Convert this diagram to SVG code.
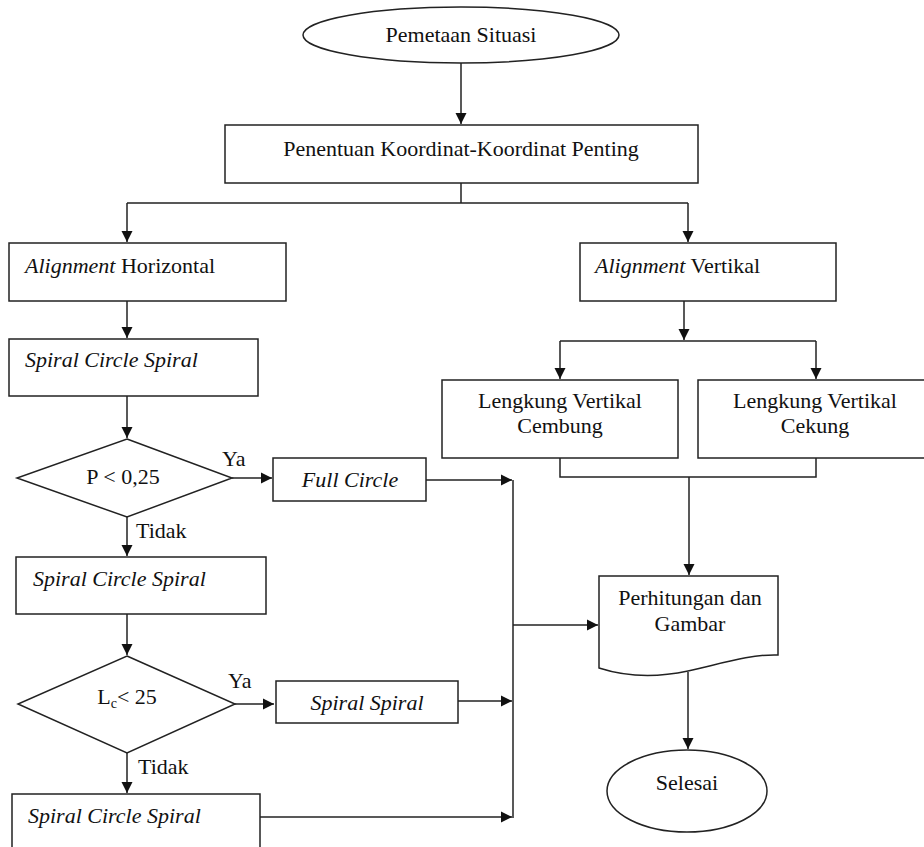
<svg xmlns="http://www.w3.org/2000/svg" width="924" height="847" viewBox="0 0 924 847">
<style>
.s{fill:#fff;stroke:#222;stroke-width:1.5}
.c{fill:none;stroke:#222;stroke-width:1.5}
text{font-family:"Liberation Serif","Times New Roman",serif;font-size:22px;fill:#111}
.m{text-anchor:middle}
.i{font-style:italic}
</style>
<defs>
<marker id="a" markerUnits="userSpaceOnUse" markerWidth="12" markerHeight="12" refX="11" refY="6" orient="auto">
<path d="M0,0.5 L11,6 L0,11.5 Z" fill="#111"/>
</marker>
</defs>
<rect width="924" height="847" fill="#fff"/>
<g id="connectors">
<path class="c" d="M461,63 V124" marker-end="url(#a)"/>
<path class="c" d="M461,183 V203 M127,203 H688"/>
<path class="c" d="M127,203 V242" marker-end="url(#a)"/>
<path class="c" d="M688,203 V242" marker-end="url(#a)"/>
<path class="c" d="M127,301 V338" marker-end="url(#a)"/>
<path class="c" d="M127,396 V438" marker-end="url(#a)"/>
<path class="c" d="M232,478 H272" marker-end="url(#a)"/>
<path class="c" d="M127,517 V556" marker-end="url(#a)"/>
<path class="c" d="M127,614 V655" marker-end="url(#a)"/>
<path class="c" d="M235,704 H274" marker-end="url(#a)"/>
<path class="c" d="M127,753 V793" marker-end="url(#a)"/>
<path class="c" d="M426,480 H512" marker-end="url(#a)"/>
<path class="c" d="M458,701 H512" marker-end="url(#a)"/>
<path class="c" d="M260,817 H512" marker-end="url(#a)"/>
<path class="c" d="M513,480 V818"/>
<path class="c" d="M513,625 H598" marker-end="url(#a)"/>
<path class="c" d="M684,301 V340" marker-end="url(#a)"/>
<path class="c" d="M560,341 H816"/>
<path class="c" d="M560,341 V379" marker-end="url(#a)"/>
<path class="c" d="M816,341 V379" marker-end="url(#a)"/>
<path class="c" d="M560,458 V477 H816 V458"/>
<path class="c" d="M689,477 V575" marker-end="url(#a)"/>
<path class="c" d="M688,672 V749" marker-end="url(#a)"/>
</g>
<g id="start">
<ellipse class="s" cx="461" cy="35" rx="158" ry="28"/>
<text class="m" x="461" y="42">Pemetaan Situasi</text>
</g>
<g id="koordinat">
<rect class="s" x="225" y="125" width="473" height="58"/>
<text class="m" x="461" y="156">Penentuan Koordinat-Koordinat Penting</text>
</g>
<g id="align-h">
<rect class="s" x="9" y="243" width="277" height="58"/>
<text x="25" y="273"><tspan class="i">Alignment</tspan> Horizontal</text>
</g>
<g id="scs1">
<rect class="s" x="9" y="339" width="249" height="57"/>
<text class="i" x="25" y="367">Spiral Circle Spiral</text>
</g>
<g id="dec-p">
<polygon class="s" points="127,439 232,478 127,517 17,478"/>
<text class="m" x="123" y="484">P &lt; 0,25</text>
<text x="222" y="466">Ya</text>
<text x="136" y="538">Tidak</text>
</g>
<g id="full-circle">
<rect class="s" x="273" y="458" width="153" height="43"/>
<text class="m i" x="350" y="487">Full Circle</text>
</g>
<g id="scs2">
<rect class="s" x="16" y="557" width="250" height="57"/>
<text class="i" x="33" y="586">Spiral Circle Spiral</text>
</g>
<g id="dec-lc">
<polygon class="s" points="127,656 235,704 127,753 18,704"/>
<text class="m" x="127" y="704">L<tspan font-size="14" dy="4">c</tspan><tspan dy="-4">&lt; 25</tspan></text>
<text x="228" y="688">Ya</text>
<text x="138" y="774">Tidak</text>
</g>
<g id="spiral-spiral">
<rect class="s" x="276" y="681" width="182" height="42"/>
<text class="m i" x="367" y="710">Spiral Spiral</text>
</g>
<g id="scs3">
<rect class="s" x="12" y="794" width="248" height="70"/>
<text class="i" x="28" y="823">Spiral Circle Spiral</text>
</g>
<g id="align-v">
<rect class="s" x="580" y="243" width="256" height="58"/>
<text x="595" y="273"><tspan class="i">Alignment</tspan> Vertikal</text>
</g>
<g id="cembung">
<rect class="s" x="442" y="380" width="236" height="78"/>
<text class="m" x="560" y="408">Lengkung Vertikal</text>
<text class="m" x="560" y="433">Cembung</text>
</g>
<g id="cekung">
<rect class="s" x="698" y="380" width="236" height="78"/>
<text class="m" x="815" y="408">Lengkung Vertikal</text>
<text class="m" x="815" y="433">Cekung</text>
</g>
<g id="perhitungan">
<path class="s" d="M599,576 H778 V655 C750,654 720,664 688,671 C660,677 630,678 599,668 Z"/>
<text class="m" x="690" y="605">Perhitungan dan</text>
<text class="m" x="690" y="631">Gambar</text>
</g>
<g id="selesai">
<ellipse class="s" cx="687" cy="791" rx="80" ry="41"/>
<text class="m" x="687" y="790">Selesai</text>
</g>
</svg>
